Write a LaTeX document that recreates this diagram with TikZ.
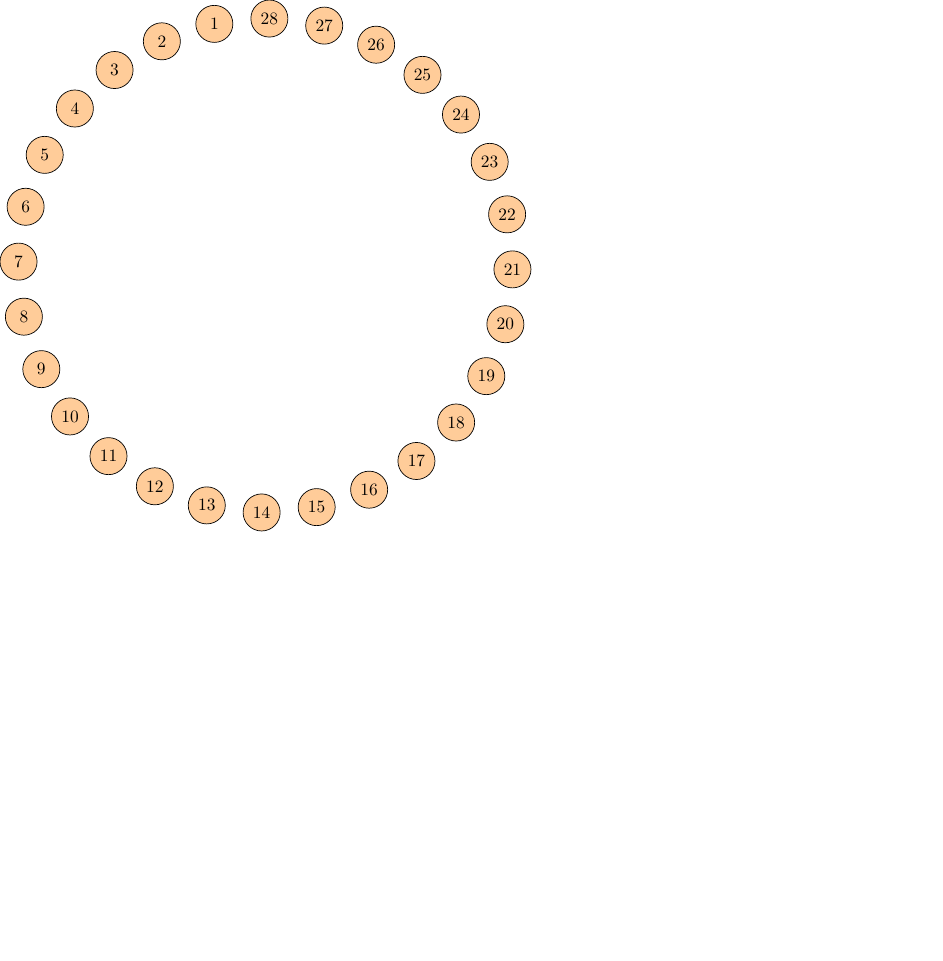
\documentclass[tikz,border=0pt]{standalone}
\usepackage{tikz}
\tikzset{vertex/.style={circle, draw, fill=orange!40, minimum size=0.75cm, inner sep=0pt}}

\begin{document}
\begin{tikzpicture}
    % Bounding box
    \useasboundingbox (-5.375,5.375) rectangle (13.70,-14.08);

    % Vertices on the ring
    \foreach \i in {1,...,28}
        \node[vertex] (n\i) at ({90+\i*360/28-0.9}:5) {\i};
\end{tikzpicture}
\end{document}
